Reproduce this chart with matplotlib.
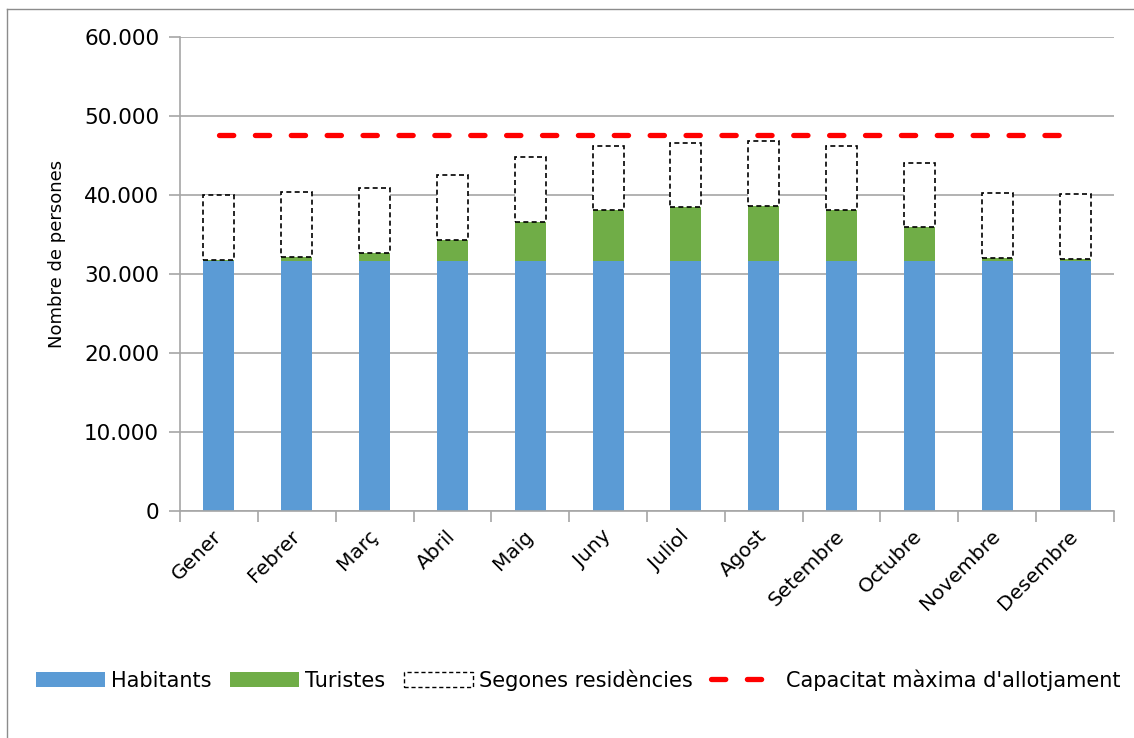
import matplotlib.pyplot as plt
from matplotlib.patches import Patch
from matplotlib.lines import Line2D
import numpy as np

mesos = ['Gener', 'Febrer', 'Març', 'Abril', 'Maig', 'Juny', 'Juliol',
         'Agost', 'Setembre', 'Octubre', 'Novembre', 'Desembre']
habitants = [31650] * 12
turistes = [150, 510, 1020, 2710, 4970, 6410, 6790, 6950, 6410, 4330, 380, 250]
segones = [8220, 8220, 8180, 8150, 8210, 8190, 8190, 8200, 8090, 8090, 8220, 8180]
capacitat = [47630] * 12

blau = '#5B9BD5'
verd = '#70AD47'
gris = '#A6A6A6'

plt.rcParams['font.family'] = 'DejaVu Sans'

fig = plt.figure(figsize=(11.34, 7.38), dpi=100)
ax = fig.add_axes([180/1134, 1 - 511/738, (1114-180)/1134, (511-37)/738])

x = np.arange(len(mesos))
w = 0.4
hab = np.array(habitants)
tur = np.array(turistes)
seg = np.array(segones)

ax.bar(x, hab, w, color=blau, zorder=2)
ax.bar(x, tur, w, bottom=hab, color=verd, zorder=2)
ax.bar(x, seg, w, bottom=hab + tur, facecolor='white', edgecolor='black',
       linestyle=(0, (3, 2)), linewidth=1.2, zorder=2)
ax.plot(x, capacitat, color='#FF0000', linewidth=3.8,
        dashes=(2.7, 4.1), dash_capstyle='round', zorder=3)

ax.set_xlim(-0.5, 11.5)
ax.set_ylim(0, 60000)
ax.set_yticks(range(0, 60001, 10000))
ax.set_yticklabels(['0'] + ['{:,}'.format(v).replace(',', '.') for v in range(10000, 60001, 10000)],
                   fontsize=15.5)
ax.set_xticks(np.arange(-0.5, 12, 1))
ax.set_xticklabels([])
ax.set_xticks(x, minor=True)
ax.set_xticklabels(mesos, minor=True, rotation=45, ha='right', va='center',
                   rotation_mode='anchor', fontsize=14.5)
ax.tick_params(axis='x', which='minor', length=0, pad=16)
ax.tick_params(axis='x', which='major', length=8, color=gris, width=1.2)
ax.tick_params(axis='y', length=8, color=gris, width=1.2, pad=7)

ax.grid(axis='y', color=gris, linewidth=1.2, zorder=0)
ax.set_axisbelow(True)
for s in ['top', 'right']:
    ax.spines[s].set_visible(False)
for s in ['left', 'bottom']:
    ax.spines[s].set_color(gris)
    ax.spines[s].set_linewidth(1.2)

ax.set_ylabel('Nombre de persones', fontsize=13)
ax.yaxis.set_label_coords(-0.122, 0.542)

handles = [
    Patch(facecolor=blau, label='Habitants'),
    Patch(facecolor=verd, label='Turistes'),
    Patch(facecolor='white', edgecolor='black', linestyle=(0, (3, 2)),
          linewidth=1.0, label='Segones residències'),
    Line2D([], [], color='#FF0000', linewidth=3.8, dashes=(2.7, 4.1),
           dash_capstyle='round', label="Capacitat màxima d'allotjament"),
]
fig.legend(handles=handles, loc='center', bbox_to_anchor=(0.51, 1 - 680/738),
           ncol=4, frameon=False, fontsize=15, handlelength=3.3,
           handletextpad=0.3, columnspacing=0.9)

# marc de la figura
fig.add_artist(Line2D([7/1134, 7/1134], [0, 1 - 9/738], transform=fig.transFigure,
                      color='#8C8C8C', linewidth=1))
fig.add_artist(Line2D([7/1134, 1], [1 - 9/738, 1 - 9/738], transform=fig.transFigure,
                      color='#8C8C8C', linewidth=1))

fig.savefig('out.png', dpi=100)
